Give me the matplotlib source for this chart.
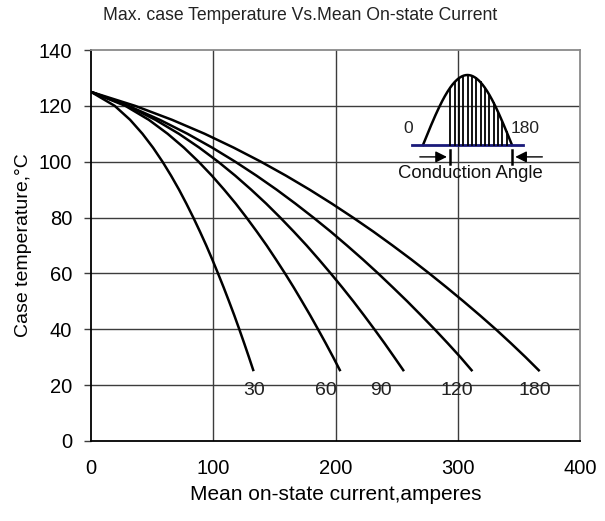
import matplotlib
matplotlib.use("Agg")
import matplotlib.pyplot as plt
import numpy as np
from matplotlib import font_manager

plt.rcParams['font.family'] = ['Liberation Sans', 'DejaVu Sans']

# ---- data ----
angles = ["30", "60", "90", "120", "180"]
temps = [125, 120, 115, 110, 105, 100, 95, 90, 85, 80, 75, 70, 65, 60,
         55, 50, 45, 40, 35, 30, 25]
cur_30 = [0, 19.4, 32.0, 42.1, 50.8, 58.5, 65.5, 72.0, 78.0, 83.7, 89.1,
          94.3, 99.2, 103.9, 108.5, 112.9, 117.2, 121.3, 125.3, 129.2, 133.0]
cur_60 = [0, 28.1, 47.3, 62.7, 76.1, 88.0, 98.9, 108.9, 118.4, 127.2, 135.6,
          143.7, 151.3, 158.7, 165.8, 172.6, 179.3, 185.7, 192.0, 198.1, 204.0]
cur_90 = [0, 29.9, 52.7, 71.9, 88.7, 104.0, 118.0, 131.0, 143.3, 154.8, 165.8,
          176.4, 186.4, 196.1, 205.5, 214.6, 223.3, 231.8, 240.1, 248.1, 256.0]
cur_120 = [0, 30.6, 56.3, 78.9, 99.3, 118.0, 135.4, 151.8, 167.2, 181.9, 196.0,
           209.4, 222.4, 234.9, 246.9, 258.7, 270.0, 281.1, 291.8, 302.2, 312.0]
cur_180 = [0, 36.1, 66.3, 93.0, 116.9, 139.0, 159.5, 178.8, 197.0, 214.3, 230.9,
           246.7, 262.0, 276.7, 290.9, 304.7, 318.1, 331.1, 343.5, 355.5, 367.0]
label_x = [133.5, 192, 237, 299, 363]
label_y = 18
xticks = [0, 100, 200, 300, 400]
yticks = [0, 20, 40, 60, 80, 100, 120, 140]

series = [cur_30, cur_60, cur_90, cur_120, cur_180]

fig = plt.figure(figsize=(6.05, 5.21), dpi=100)
ax = fig.add_axes([91/605, 80/521, 489/605, 391/521])

grid_c = '#3c3c3c'
for xv in xticks[1:-1]:
    ax.axvline(xv, color=grid_c, lw=1.0, zorder=1)
for yv in yticks[1:-1]:
    ax.axhline(yv, color=grid_c, lw=1.0, zorder=1)

for cur in series:
    ax.plot(cur, temps, color='black', lw=1.8, zorder=3,
            solid_capstyle='butt', solid_joinstyle='round')

for lab, lx in zip(angles, label_x):
    ax.text(lx, label_y, lab, ha='center', va='center', fontsize=14,
            color='#222222', zorder=4)

ax.set_xlim(0, 400)
ax.set_ylim(0, 140)
ax.set_xticks(xticks)
ax.set_yticks(yticks)
ax.tick_params(axis='x', length=0, pad=13, labelsize=14.5)
ax.tick_params(axis='y', length=5, width=1, direction='out', pad=8.5,
               labelsize=14.5, color=grid_c)
for s in ['left', 'bottom']:
    ax.spines[s].set_color('black')
    ax.spines[s].set_linewidth(1.3)
for s in ['top', 'right']:
    ax.spines[s].set_color('#8a8a8a')
    ax.spines[s].set_linewidth(1.3)

ax.set_xlabel('Mean on-state current,amperes', fontsize=15, labelpad=5)
ax.set_ylabel('Case temperature,°C', fontsize=14, labelpad=5)

names = {f.name for f in font_manager.fontManager.ttflist}
tfam = 'Liberation Sans Narrow' if 'Liberation Sans Narrow' in names else 'Liberation Sans'
fig.text(300/605, 1 - 16/521, 'Max. case Temperature Vs.Mean On-state Current',
         ha='center', va='center', fontsize=12.7, family=tfam, color='#222222')

# ---- inset: conduction angle sketch ----
ins = fig.add_axes([391/605, (521-200)/521, 164/605, 135/521])
ins.set_facecolor('white')
ins.set_xlim(-64.7, 267)
ins.set_ylim(-0.786, 1.143)
ins.axis('off')
th = np.linspace(0, 180, 200)
ins.plot(th, np.sin(np.radians(th)), color='black', lw=1.8)
ins.plot([-22, 203], [0, 0], color='#1a1a7a', lw=2.0)
for a in np.arange(55, 178, 8.8):
    ins.plot([a, a], [0, np.sin(np.radians(a))], color='black', lw=1.3)
ins.text(-30, 0.24, '0', ha='center', va='center', fontsize=12.5, color='#222222')
ins.text(177, 0.24, '180', ha='left', va='center', fontsize=12.5, color='#222222')
# arrows
ins.plot([55, 55], [-0.07, -0.27], color='black', lw=1.8)
ins.annotate('', xy=(54, -0.17), xytext=(-12, -0.17),
             arrowprops=dict(arrowstyle='-|>', color='black', lw=1.0,
                             mutation_scale=17))
ins.plot([180, 180], [-0.07, -0.27], color='black', lw=1.8)
ins.annotate('', xy=(181, -0.17), xytext=(247, -0.17),
             arrowprops=dict(arrowstyle='-|>', color='black', lw=1.0,
                             mutation_scale=17))
ins.text(95, -0.41, 'Conduction Angle', ha='center', va='center', fontsize=13.3,
         color='#111111')

fig.savefig('out.png', dpi=100)
